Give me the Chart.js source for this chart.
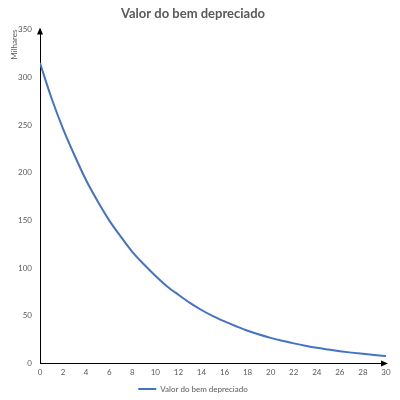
<!DOCTYPE html>
<html lang="pt">
<head>
  <meta charset="UTF-8">
  <title>Valor do bem depreciado</title>
  <script src="https://cdn.jsdelivr.net/npm/chart.js"></script>
  <style>
    body { margin: 0; background: #fff; }
    #chart { display: block; }
  </style>
</head>
<body>
  <canvas id="chart" width="400" height="400"></canvas>

  <script>
    // valores (milhares)
    const anos = [0, 1, 2, 3, 4, 5, 6, 7, 8, 9, 10, 11, 12, 13, 14, 15, 16, 17, 18, 19, 20, 21, 22, 23, 24, 25, 26, 27, 28, 29, 30];
    const valores = [315, 278, 246, 218, 192, 170, 150, 133, 117, 104, 92, 81, 72, 63.5, 56, 49.5, 44, 39, 34.3, 30.3, 26.8, 23.7, 21, 18.5, 16.3, 14.5, 12.8, 11.3, 10, 8.8, 7.8];
    const serieNome = "Valor do bem depreciado";

    const fonte = "Lato, 'DejaVu Sans', sans-serif";
    const cinza = "#595959";

    // setas nas pontas dos eixos
    const setas = {
      id: "setas",
      afterDraw(chart) {
        const ctx = chart.ctx;
        const a = chart.chartArea;
        ctx.save();
        ctx.fillStyle = "#000";
        ctx.beginPath();
        ctx.moveTo(a.left, a.top - 2);
        ctx.lineTo(a.left - 3, a.top + 5);
        ctx.lineTo(a.left + 3, a.top + 5);
        ctx.closePath();
        ctx.fill();
        ctx.beginPath();
        ctx.moveTo(a.right + 2, a.bottom);
        ctx.lineTo(a.right - 5, a.bottom - 3);
        ctx.lineTo(a.right - 5, a.bottom + 3);
        ctx.closePath();
        ctx.fill();
        ctx.restore();
      }
    };

    new Chart(document.getElementById("chart"), {
      type: "line",
      data: {
        datasets: [{
          label: serieNome,
          data: anos.map((x, i) => ({ x: x, y: valores[i] })),
          borderColor: "#4472c4",
          backgroundColor: "#4472c4",
          borderWidth: 2,
          pointRadius: 0,
          cubicInterpolationMode: "monotone"
        }]
      },
      options: {
        responsive: false,
        animation: false,
        layout: { padding: { top: 4, right: 14, bottom: -3, left: 0 } },
        plugins: {
          title: {
            display: true,
            text: "Valor do bem depreciado",
            color: cinza,
            font: { family: fonte, size: 13, weight: "bold" },
            padding: { top: 2, bottom: 8 }
          },
          legend: {
            position: "bottom",
            labels: {
              color: cinza,
              font: { family: fonte, size: 8 },
              usePointStyle: true,
              pointStyle: "line",
              pointStyleWidth: 18,
              boxHeight: 2,
              padding: 1
            }
          },
          tooltip: { enabled: false }
        },
        scales: {
          x: {
            type: "linear",
            min: 0,
            max: 30,
            grid: { display: false, drawTicks: false },
            border: { color: "#000", width: 1 },
            ticks: {
              stepSize: 2,
              color: cinza,
              padding: 4,
              maxRotation: 0,
              font: { family: fonte, size: 8 }
            },
            afterFit(s) { s.height += 3; }
          },
          y: {
            min: 0,
            max: 350,
            grid: { display: false, drawTicks: false },
            border: { color: "#000", width: 1 },
            ticks: {
              stepSize: 50,
              color: cinza,
              padding: 8,
              font: { family: fonte, size: 8 }
            },
            title: {
              display: true,
              text: "Milhares",
              align: "end",
              color: cinza,
              font: { family: fonte, size: 8 },
              padding: { top: 10, bottom: 2 }
            },
            afterFit(s) { s.width = 40; }
          }
        }
      },
      plugins: [setas]
    });
  </script>
</body>
</html>
